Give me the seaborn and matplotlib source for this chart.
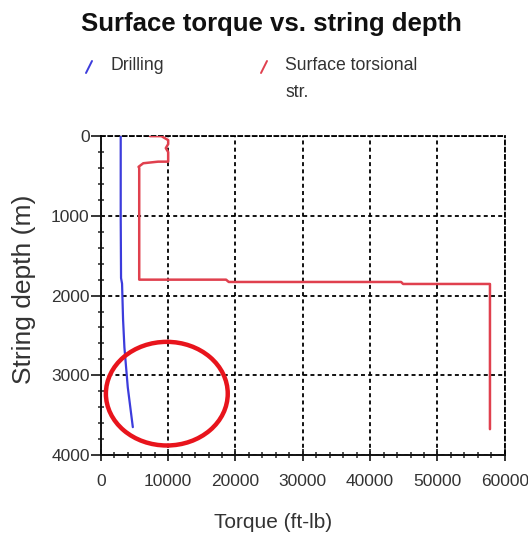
import matplotlib
matplotlib.use("Agg")
import matplotlib.pyplot as plt
from matplotlib.lines import Line2D
from matplotlib.patches import Ellipse
from matplotlib.ticker import MultipleLocator
import pandas as pd
import seaborn as sns

# Drilling torque profile (ft-lb) against string depth (m)
drill_torque = [2950, 2950, 3000, 3150, 3300, 3500, 4000, 4750]
drill_depth = [0, 1000, 1780, 1850, 2300, 2650, 3150, 3650]

# Surface torsional strength profile
str_torque = [7300, 9000, 10000, 10000, 9650, 10000, 10000, 8500, 6300, 5600,
              5700, 5700, 18600, 19000, 44600, 44900, 57800, 57800]
str_depth = [0, 0, 50, 100, 150, 200, 320, 320, 340, 385,
             400, 1800, 1800, 1829, 1829, 1854, 1854, 3675]

# Highlighted region (centre torque, centre depth, width, height)
mark_center = (9800, 3230)
mark_size = (18100, 1300)

x_ticks = [0, 10000, 20000, 30000, 40000, 50000, 60000]
y_ticks = [0, 1000, 2000, 3000, 4000]

title = "Surface torque vs. string depth"
legend_labels = ["Drilling", "Surface torsional\nstr."]
x_label = "Torque (ft-lb)"
y_label = "String depth (m)"

BLUE = "#3c3cdc"
RED = "#e0404e"
CIRCLE = "#e8141c"

sns.set_style("white")
plt.rcParams["font.family"] = ["Liberation Sans", "DejaVu Sans"]
text_color = "#333333"

fig = plt.figure(figsize=(5.28, 5.36), dpi=100)
ax = fig.add_axes([0.191, 0.151, 0.765, 0.595])

drill = pd.DataFrame({"torque": drill_torque, "depth": drill_depth})
strength = pd.DataFrame({"torque": str_torque, "depth": str_depth})

sns.lineplot(data=drill, x="torque", y="depth", sort=False, estimator=None,
             color=BLUE, lw=1.6, ax=ax, zorder=4)
sns.lineplot(data=strength, x="torque", y="depth", sort=False, estimator=None,
             color=RED, lw=1.8, ax=ax, zorder=4)

ax.add_patch(Ellipse(mark_center, mark_size[0], mark_size[1], fill=False,
                     ec=CIRCLE, lw=3.2, zorder=5))

ax.set_xlim(x_ticks[0], x_ticks[-1])
ax.set_ylim(y_ticks[-1], y_ticks[0])
ax.set_xticks(x_ticks)
ax.set_yticks(y_ticks)
ax.set_xticklabels([str(v) for v in x_ticks])
ax.set_yticklabels([str(v) for v in y_ticks])
ax.xaxis.set_minor_locator(MultipleLocator(2000))
ax.yaxis.set_minor_locator(MultipleLocator(200))

ax.grid(True, which="major", color="black", linestyle=(0, (2.2, 1.8)), lw=1.3, zorder=1)
for side in ("top", "right"):
    ax.spines[side].set_linestyle((0, (2.2, 1.8)))
    ax.spines[side].set_linewidth(1.3)
    ax.spines[side].set_color("black")
for side in ("left", "bottom"):
    ax.spines[side].set_linewidth(1.4)
    ax.spines[side].set_color("#111111")

ax.tick_params(axis="x", which="major", direction="inout", length=9, width=1.3,
               labelsize=12.5, labelcolor=text_color, pad=9, bottom=True)
ax.tick_params(axis="x", which="minor", direction="inout", length=4, width=1.1, bottom=True)
ax.tick_params(axis="y", which="major", direction="out", length=7, width=1.3,
               labelsize=12.5, labelcolor=text_color, pad=1, left=True)
ax.tick_params(axis="y", which="minor", direction="inout", length=4, width=1.1, left=True)

ax.set_xlabel(x_label, fontsize=15, color=text_color)
ax.set_ylabel(y_label, fontsize=19, color=text_color)
ax.xaxis.set_label_coords(0.426, -0.213)
ax.xaxis.label.set_va("center")
ax.yaxis.set_label_coords(-0.19, 0.52)
ax.yaxis.label.set_va("center")

fig.text(0.515, 0.955, title, ha="center", va="center", fontsize=18.5,
         fontweight="bold", color="#111111")

# Legend row: slanted line glyphs followed by the series names
W, H = 528, 536
for (x0, col), label in zip(((86, BLUE), (261, RED)), legend_labels):
    fig.add_artist(Line2D([x0 / W, (x0 + 6) / W], [1 - 73 / H, 1 - 61 / H],
                          color=col, lw=1.4, transform=fig.transFigure))
    fig.text((x0 + 24) / W, 1 - 57 / H, label, ha="left", va="top", fontsize=12.7,
             color=text_color, linespacing=1.75)

fig.savefig("out.png", dpi=100)
